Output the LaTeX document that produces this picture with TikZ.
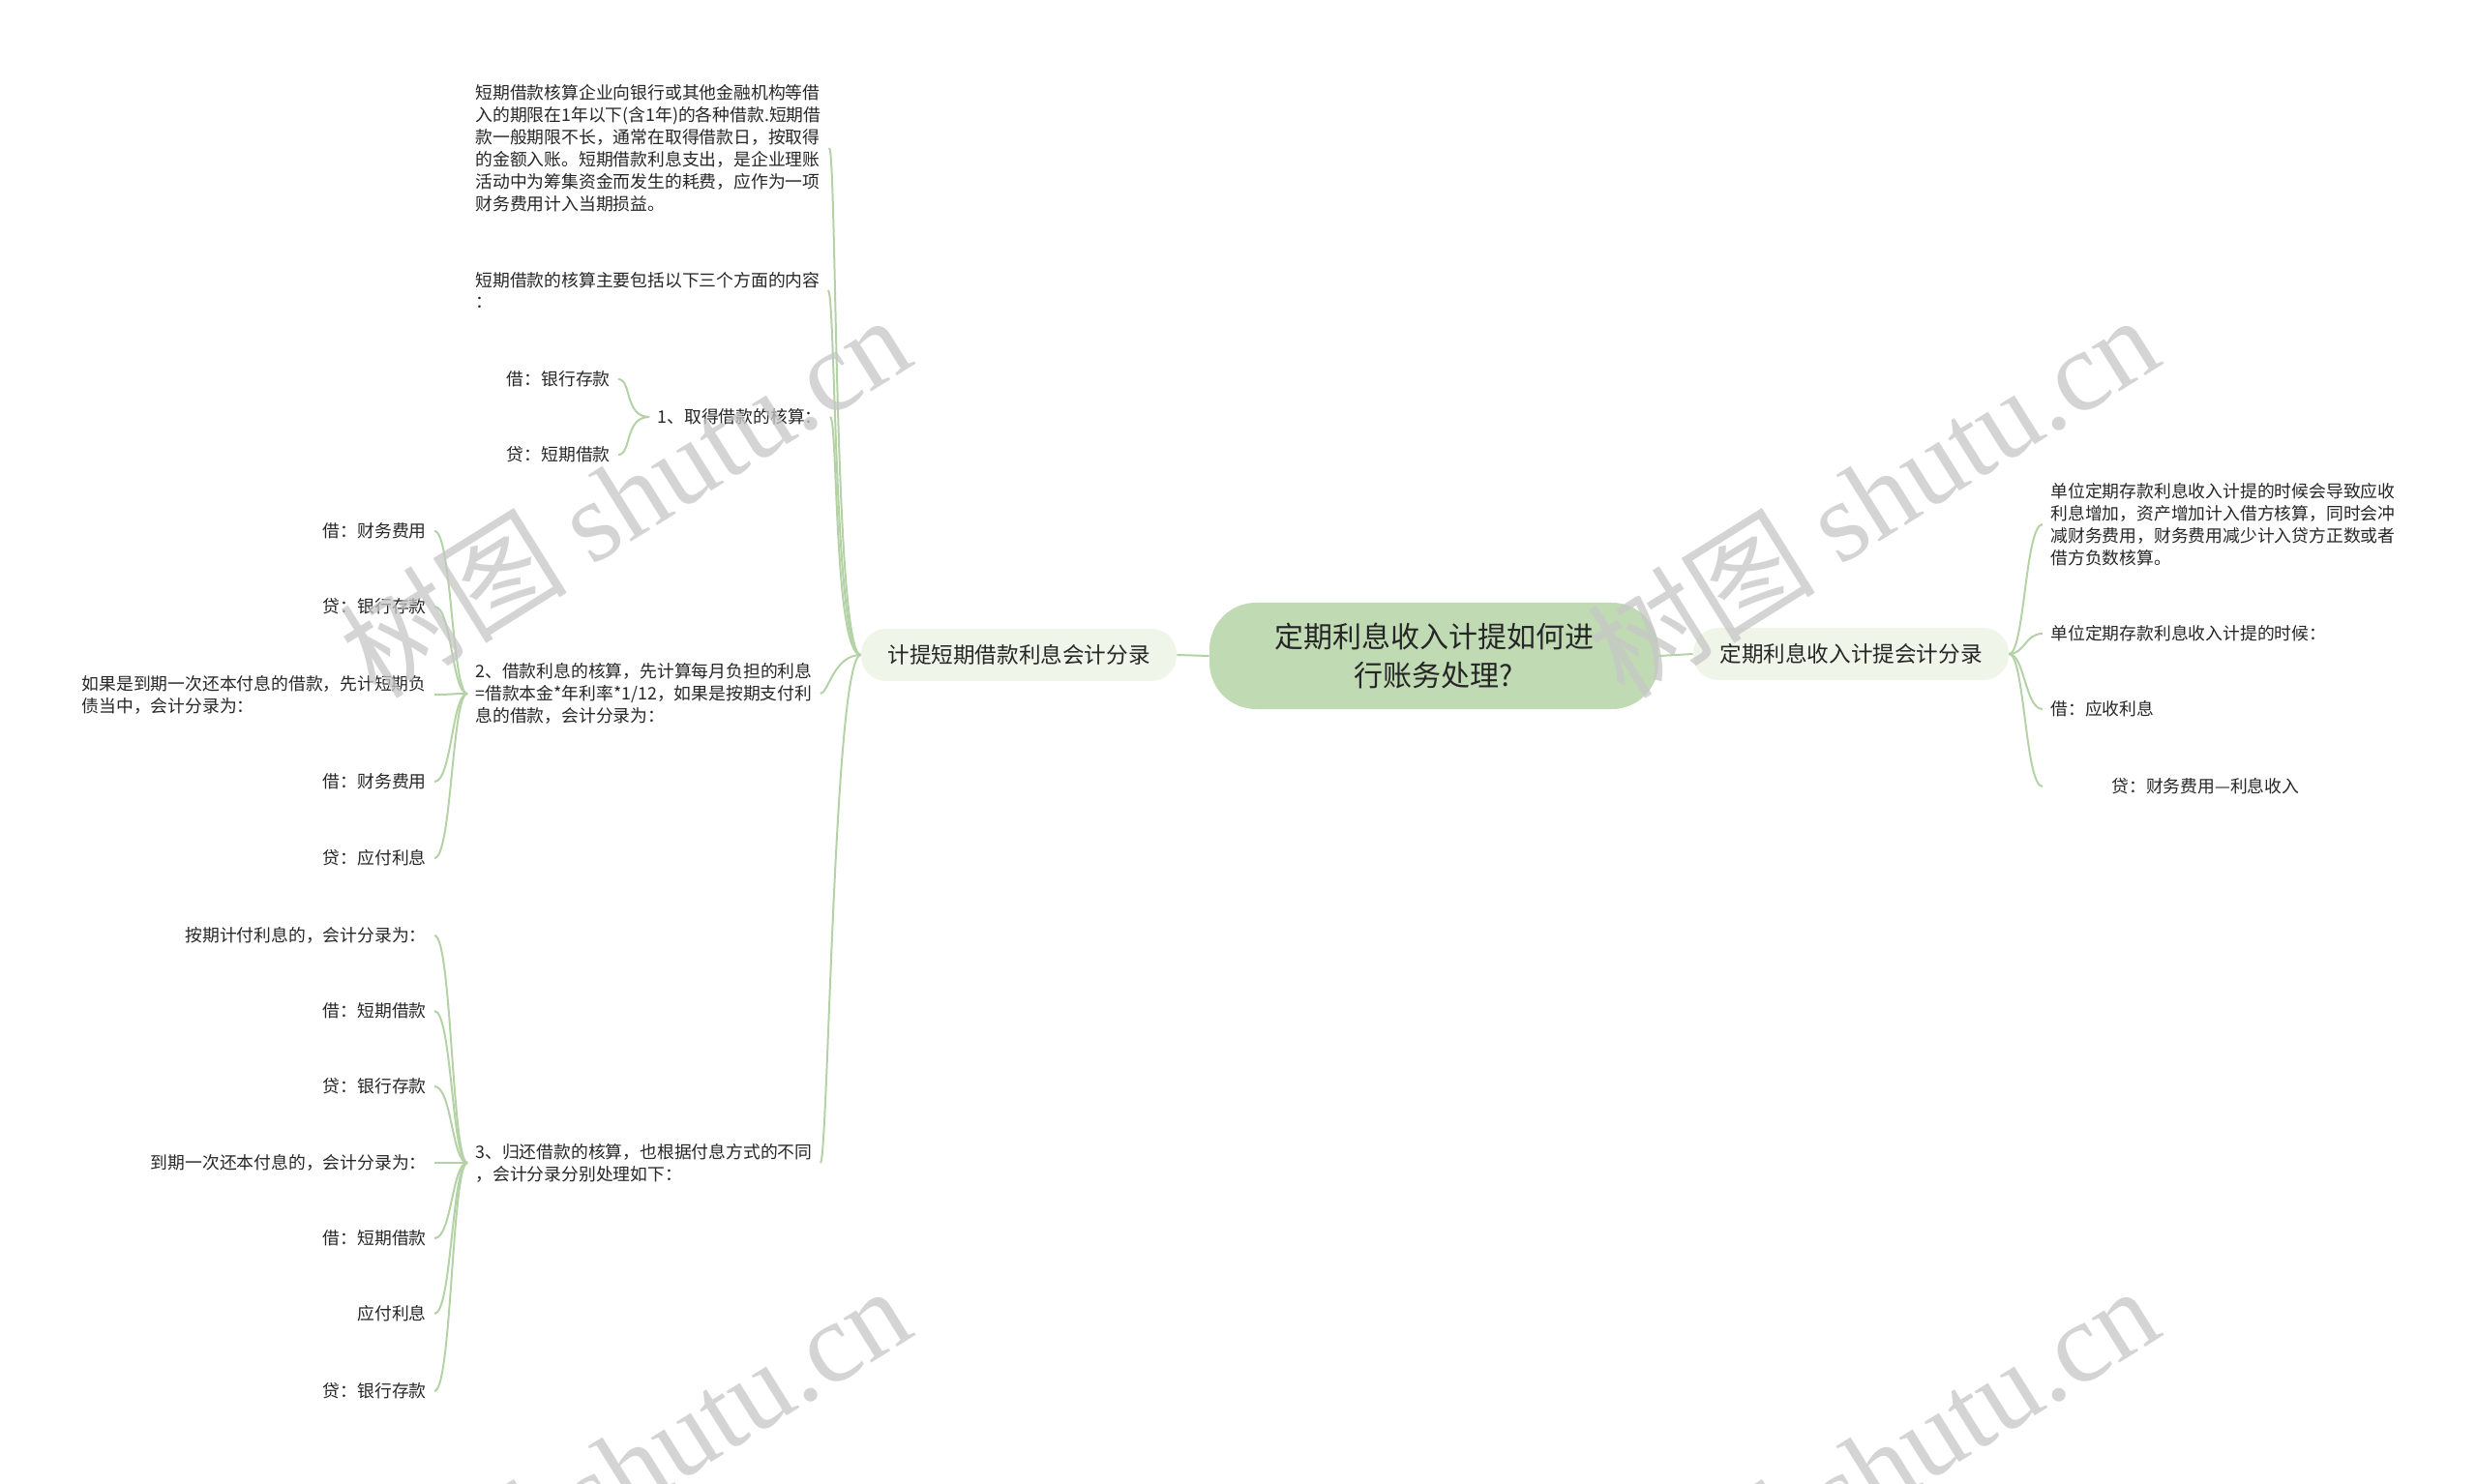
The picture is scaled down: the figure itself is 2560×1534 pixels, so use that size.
\documentclass[tikz,border=0pt]{standalone}
\usepackage{fontspec}
\newfontfamily\cjk{Noto Sans CJK SC}
\newfontfamily\wmserif{Liberation Serif}
\usetikzlibrary{positioning}

\definecolor{linkgreen}{RGB}{180,210,166}
\definecolor{rootfill}{RGB}{192,218,180}
\definecolor{branchfill}{RGB}{239,245,233}
\definecolor{inktext}{RGB}{38,38,38}
\definecolor{wmgray}{RGB}{198,198,198}

\tikzset{
  root/.style={fill=rootfill, rounded corners=24pt, minimum width=232pt, minimum height=55pt,
    align=center, text=inktext, font=\cjk\fontsize{15}{19.6}\selectfont},
  branch/.style={fill=branchfill, rounded corners=13pt, minimum width=163pt, minimum height=27pt,
    text=inktext, font=\cjk\fontsize{11.3}{14}\selectfont},
  leaf/.style={inner xsep=4pt, inner ysep=0pt, align=left, text=inktext,
    font=\cjk\fontsize{8.9}{11.45}\selectfont},
  link/.style={draw=linkgreen, line width=1pt},
  wmark/.style={rotate=32, text=wmgray, opacity=0.75, font=\cjk\fontsize{59}{59}\selectfont}
}

\begin{document}
\begin{tikzpicture}[x=0.5pt, y=-0.5pt]
    \useasboundingbox (0,0) rectangle (2560,1534);
    \def\lx{483}   % left column of the left branch
    \def\ax{449}   % right edge of the outer left leaves
    \def\rx{2111}  % left column of the right branch

    % Draw the root and the two branches
    \node[root] (root) at (1482,678) {定期利息收入计提如何进\\行账务处理?};
    \node[branch] (lb) at (1053,677) {计提短期借款利息会计分录};
    \node[branch] (rb) at (1913,676) {定期利息收入计提会计分录};
    \draw[link] (root.west) -- (lb.east);
    \draw[link] (root.east) -- (rb.west);

    % Left branch: the five parts
    \node[leaf, anchor=west] (c1) at (\lx,153) {短期借款核算企业向银行或其他金融机构等借\\入的期限在1年以下(含1年)的各种借款.短期借\\款一般期限不长，通常在取得借款日，按取得\\的金额入账。短期借款利息支出，是企业理账\\活动中为筹集资金而发生的耗费，应作为一项\\财务费用计入当期损益。};
    \node[leaf, anchor=west] (c2) at (\lx,300) {短期借款的核算主要包括以下三个方面的内容\\：};
    \node[leaf, anchor=east] (c3) at (858,431) {1、取得借款的核算：};
    \node[leaf, anchor=west] (c4) at (\lx,717) {2、借款利息的核算，先计算每月负担的利息\\=借款本金*年利率*1/12，如果是按期支付利\\息的借款，会计分录为：};
    \node[leaf, anchor=west] (c5) at (\lx,1202) {3、归还借款的核算，也根据付息方式的不同\\，会计分录分别处理如下：};
    \foreach \c in {c1,c2,c3,c4,c5}
        \draw[link] (lb.west) .. controls +(-28,0) and +(8,0) .. (\c.east);

    % Entries under part 1
    \node[leaf, anchor=east] (c3a) at (639,392) {借：银行存款};
    \node[leaf, anchor=east] (c3b) at (639,470) {贷：短期借款};
    \foreach \c in {c3a,c3b}
        \draw[link] (c3.west) .. controls +(-26,0) and +(14,0) .. (\c.east);

    % Entries under part 2
    \node[leaf, anchor=east] (c4a) at (\ax,549) {借：财务费用};
    \node[leaf, anchor=east] (c4b) at (\ax,627) {贷：银行存款};
    \node[leaf, anchor=east] (c4c) at (\ax,718) {如果是到期一次还本付息的借款，先计短期负\\债当中，会计分录为：};
    \node[leaf, anchor=east] (c4d) at (\ax,808) {借：财务费用};
    \node[leaf, anchor=east] (c4e) at (\ax,887) {贷：应付利息};
    \foreach \c in {c4a,c4b,c4c,c4d,c4e}
        \draw[link] (c4.west) .. controls +(-16,0) and +(18,0) .. (\c.east);

    % Entries under part 3
    \node[leaf, anchor=east] (c5a) at (\ax,967) {按期计付利息的，会计分录为：};
    \node[leaf, anchor=east] (c5b) at (\ax,1045) {借：短期借款};
    \node[leaf, anchor=east] (c5c) at (\ax,1123) {贷：银行存款};
    \node[leaf, anchor=east] (c5d) at (\ax,1202) {到期一次还本付息的，会计分录为：};
    \node[leaf, anchor=east] (c5e) at (\ax,1280) {借：短期借款};
    \node[leaf, anchor=east] (c5f) at (\ax,1358) {应付利息};
    \node[leaf, anchor=east] (c5g) at (\ax,1438) {贷：银行存款};
    \foreach \c in {c5a,c5b,c5c,c5d,c5e,c5f,c5g}
        \draw[link] (c5.west) .. controls +(-16,0) and +(18,0) .. (\c.east);

    % Right branch
    \node[leaf, anchor=west] (r1) at (\rx,542) {单位定期存款利息收入计提的时候会导致应收\\利息增加，资产增加计入借方核算，同时会冲\\减财务费用，财务费用减少计入贷方正数或者\\借方负数核算。};
    \node[leaf, anchor=west] (r2) at (\rx,655) {单位定期存款利息收入计提的时候：};
    \node[leaf, anchor=west] (r3) at (\rx,733) {借：应收利息};
    \node[leaf, anchor=west, minimum width=168pt] (r4) at (\rx,813) {贷：财务费用—利息收入};
    \foreach \c in {r1,r2,r3,r4}
        \draw[link] (rb.east) .. controls +(16,0) and +(-18,0) .. (\c.west);

    % Watermarks
    \node[wmark] (wm1) at (645,512) {树图 {\wmserif shutu.cn}};
    \node[wmark] (wm2) at (1935,512) {树图 {\wmserif shutu.cn}};
    \node[wmark] (wm3) at (645,1516) {树图 {\wmserif shutu.cn}};
    \node[wmark] (wm4) at (1935,1516) {树图 {\wmserif shutu.cn}};
\end{tikzpicture}
\end{document}
